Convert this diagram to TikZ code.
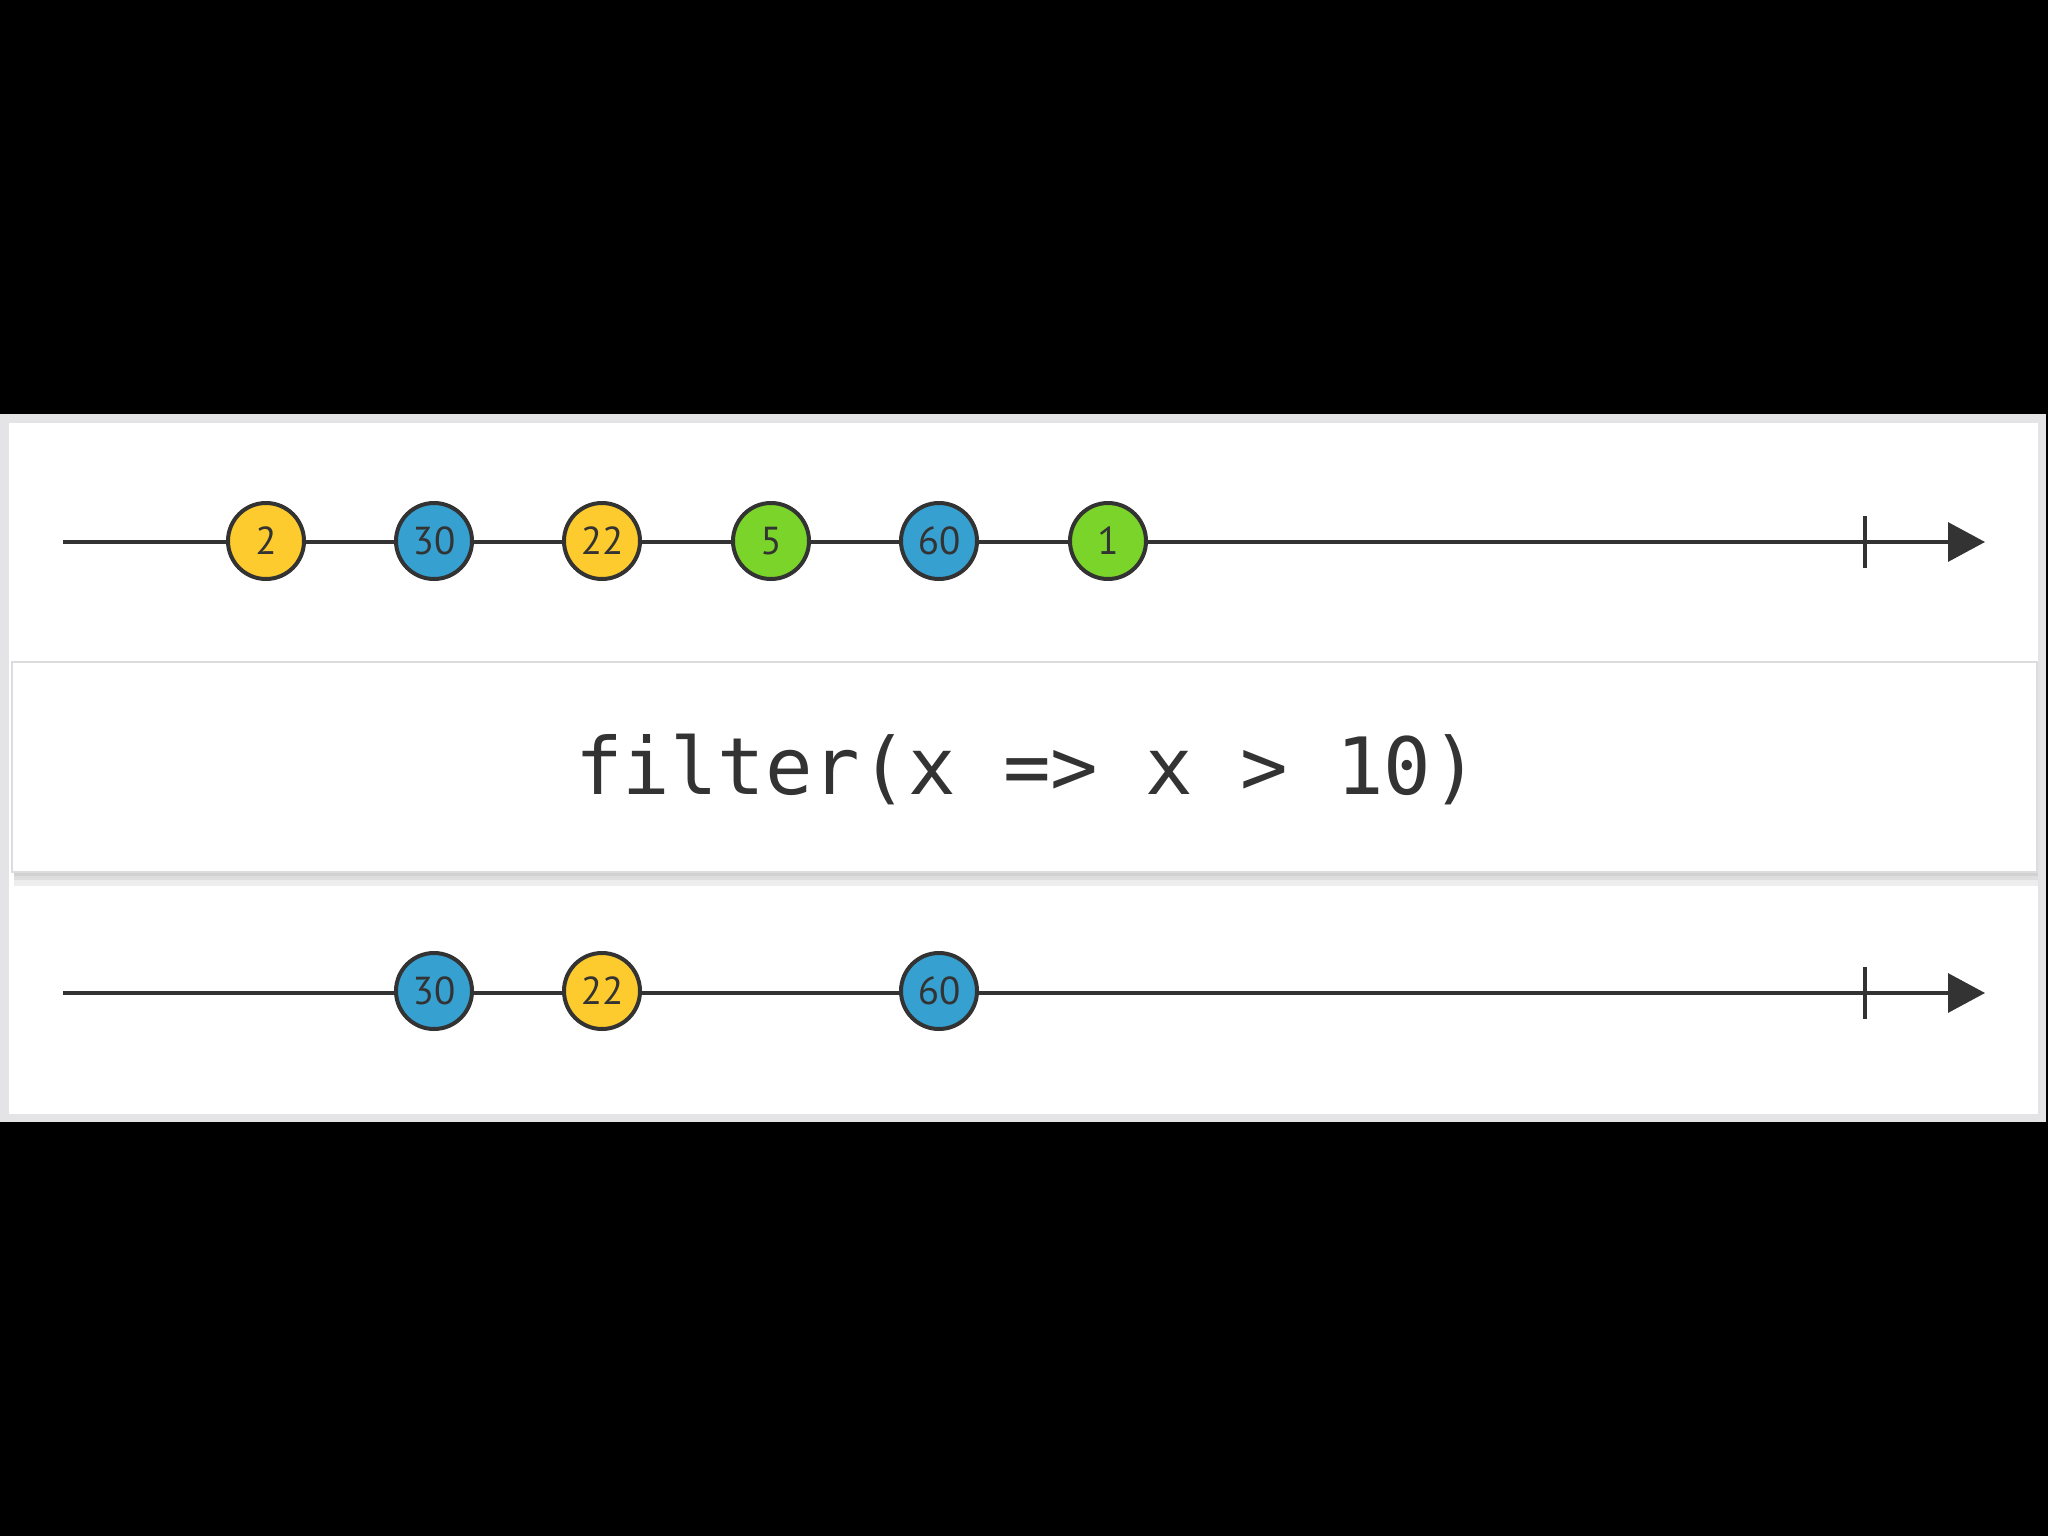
\documentclass[tikz,border=0pt]{standalone}
\usepackage{fontspec}
\usetikzlibrary{arrows.meta}
\newfontfamily\codefont{DejaVu Sans Mono}
\newfontfamily\numfont{PT Sans}
\definecolor{ink}{HTML}{333333}
\definecolor{myyellow}{HTML}{FDCB2E}
\definecolor{myblue}{HTML}{36A0D0}
\definecolor{mygreen}{HTML}{7BD42A}
\definecolor{panelgray}{HTML}{E4E4E6}
\definecolor{boxedge}{HTML}{DCDCDE}
\tikzset{
  marble/.style={circle, draw=ink, line width=4pt, minimum size=76pt, inner sep=0pt,
    font=\numfont\fontsize{39}{39}\selectfont, text=ink},
  ym/.style={marble, fill=myyellow},
  bm/.style={marble, fill=myblue},
  gm/.style={marble, fill=mygreen},
  timeline/.style={draw=ink, line width=3.2pt, -{Triangle[length=37pt,width=39pt]}},
  endtick/.style={draw=ink, line width=3.5pt},
  opbox/.style={draw=boxedge, line width=1.5pt, fill=white, minimum width=2025pt, minimum height=210pt, inner sep=0pt},
  optext/.style={font=\codefont\fontsize{79}{79}\selectfont, text=ink, anchor=base}
}
\begin{document}
\begin{tikzpicture}[x=1pt,y=-1pt]
\useasboundingbox (0,0) rectangle (2048,1536);
\fill[black] (0,0) rectangle (2048,1536);
% panel
\fill[panelgray] (0,414) rectangle (2046,1122);
\fill[white] (9,423) rectangle (2038,1114);
% shadow of operator box
\fill[black!7] (14,872) rectangle (2038,886);
\fill[black!13] (14,872) rectangle (2038,880);
\fill[black!18] (14,872) rectangle (2038,876);
% operator box
\node[opbox] (op) at (1024.5,767) {};
\node[optext] (optxt) at (1027,794) {filter(x => x > 10)};
% top timeline
\coordinate (s1) at (63,542);
\coordinate (e1) at (1985,542);
\coordinate (t1a) at (1865,516);
\coordinate (t1b) at (1865,568);
\draw[timeline] (s1) -- (e1);
\draw[endtick] (t1a) -- (t1b);
\node[ym] (a1) at (266,541) {2};
\node[bm] (a2) at (434,541) {30};
\node[ym] (a3) at (602,541) {22};
\node[gm] (a4) at (771,541) {5};
\node[bm] (a5) at (939,541) {60};
\node[gm] (a6) at (1108,541) {1};
% bottom timeline
\coordinate (s2) at (63,993);
\coordinate (e2) at (1985,993);
\coordinate (t2a) at (1865,967);
\coordinate (t2b) at (1865,1019);
\draw[timeline] (s2) -- (e2);
\draw[endtick] (t2a) -- (t2b);
\node[bm] (b2) at (434,991) {30};
\node[ym] (b3) at (602,991) {22};
\node[bm] (b5) at (939,991) {60};
\end{tikzpicture}
\end{document}
